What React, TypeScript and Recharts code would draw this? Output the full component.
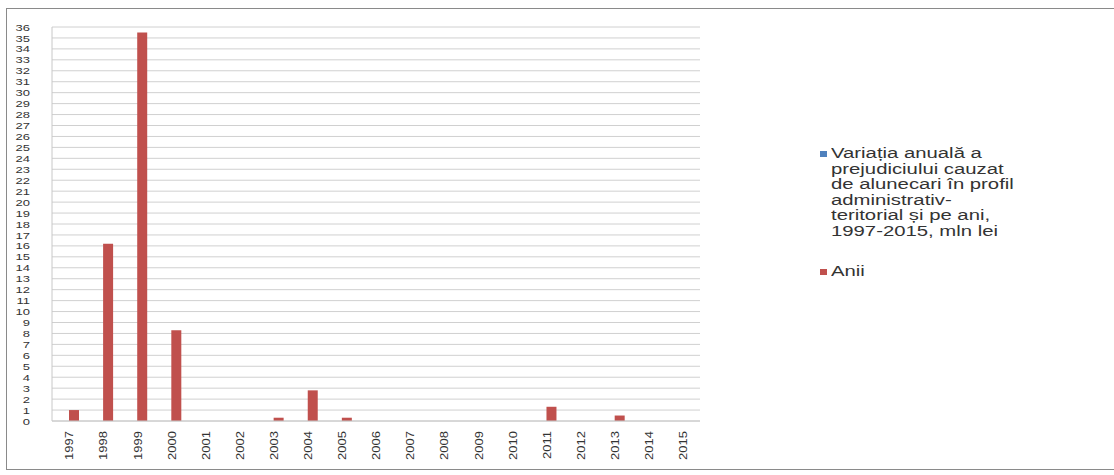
import { BarChart, Bar, XAxis, YAxis, CartesianGrid } from "recharts";

const years = ["1997", "1998", "1999", "2000", "2001", "2002", "2003", "2004", "2005", "2006", "2007", "2008", "2009", "2010", "2011", "2012", "2013", "2014", "2015"];
const variatia: (number | null)[] = [null, null, null, null, null, null, null, null, null, null, null, null, null, null, null, null, null, null, null];
const anii = [1.0, 16.2, 35.5, 8.3, 0, 0, 0.3, 2.8, 0.3, 0, 0, 0, 0, 0, 1.3, 0, 0.5, 0, 0];
const yTicks = [0, 1, 2, 3, 4, 5, 6, 7, 8, 9, 10, 11, 12, 13, 14, 15, 16, 17, 18, 19, 20, 21, 22, 23, 24, 25, 26, 27, 28, 29, 30, 31, 32, 33, 34, 35, 36];
const legendLines = ["Variația anuală a", "prejudiciului cauzat", "de alunecari în profil", "administrativ-", "teritorial și pe ani,", "1997-2015, mln lei"];

const BLUE = "#4f81bd";
const RED = "#c0504d";
const FONT = "Liberation Sans, Arial, sans-serif";

const data = years.map((y, i) => ({ year: y, variatia: variatia[i], anii: anii[i] }));

function YearTick({ x, y, payload }: any) {
  return (
    <g transform={`translate(${x},${y})`}>
      <text transform="rotate(-90) scale(1,0.85)" textAnchor="end" x={0} y={0} dy={5} fontSize={13} fill="#333" fontFamily={FONT}>
        {payload.value}
      </text>
    </g>
  );
}

function ValueTick({ x, y, payload }: any) {
  return (
    <g transform={`translate(${x},${y})`}>
      <text transform="scale(1,0.72)" textAnchor="end" x={0} y={0} dy={5} fontSize={13} fill="#333" fontFamily={FONT}>
        {payload.value}
      </text>
    </g>
  );
}

function LegendBox() {
  return (
    <div style={{ position: "absolute", left: 820, top: 146, fontFamily: FONT, fontSize: 14, color: "#333", lineHeight: "15.5px" }}>
      <div style={{ display: "flex", alignItems: "flex-start" }}>
        <span style={{ width: 7, height: 6, background: BLUE, marginTop: 5, marginRight: 4, flexShrink: 0 }} />
        <div style={{ transform: "scaleX(1.45)", transformOrigin: "left top", whiteSpace: "nowrap" }}>
          {legendLines.map((l) => (
            <div key={l}>{l}</div>
          ))}
        </div>
      </div>
      <div style={{ display: "flex", alignItems: "flex-start", marginTop: 25 }}>
        <span style={{ width: 7, height: 6, background: RED, marginTop: 5, marginRight: 4, flexShrink: 0 }} />
        <div style={{ transform: "scaleX(1.45)", transformOrigin: "left top" }}>Anii</div>
      </div>
    </div>
  );
}

export default function App() {
  return (
    <div style={{ position: "absolute", left: 0, top: 0, width: 1114, height: 475, background: "#fff" }}>
      <div style={{ position: "absolute", left: 6, top: 8, width: 1110, height: 462, border: "1px solid #8a8a8a", boxSizing: "border-box" }} />
      <div style={{ position: "absolute", left: 0, top: 0 }}>
        <BarChart width={1114} height={475} data={data} margin={{ top: 27, right: 414, bottom: 0, left: 12 }} barGap={0} barSize={10}>
          <CartesianGrid vertical={false} stroke="#d0d0d0" />
          <XAxis dataKey="year" interval={0} tickLine={false} axisLine={{ stroke: "#c8c8c8" }} tick={<YearTick />} tickMargin={4} height={54} />
          <YAxis
            domain={[0, 36]}
            ticks={yTicks}
            interval={0}
            width={40}
            tickLine={false}
            tickSize={0}
            tickMargin={22}
            axisLine={{ stroke: "#c8c8c8" }}
            tick={<ValueTick />}
          />
          <Bar dataKey="variatia" name={legendLines.join(" ")} fill={BLUE} isAnimationActive={false} />
          <Bar dataKey="anii" name="Anii" fill={RED} isAnimationActive={false} />
        </BarChart>
      </div>
      <LegendBox />
    </div>
  );
}
